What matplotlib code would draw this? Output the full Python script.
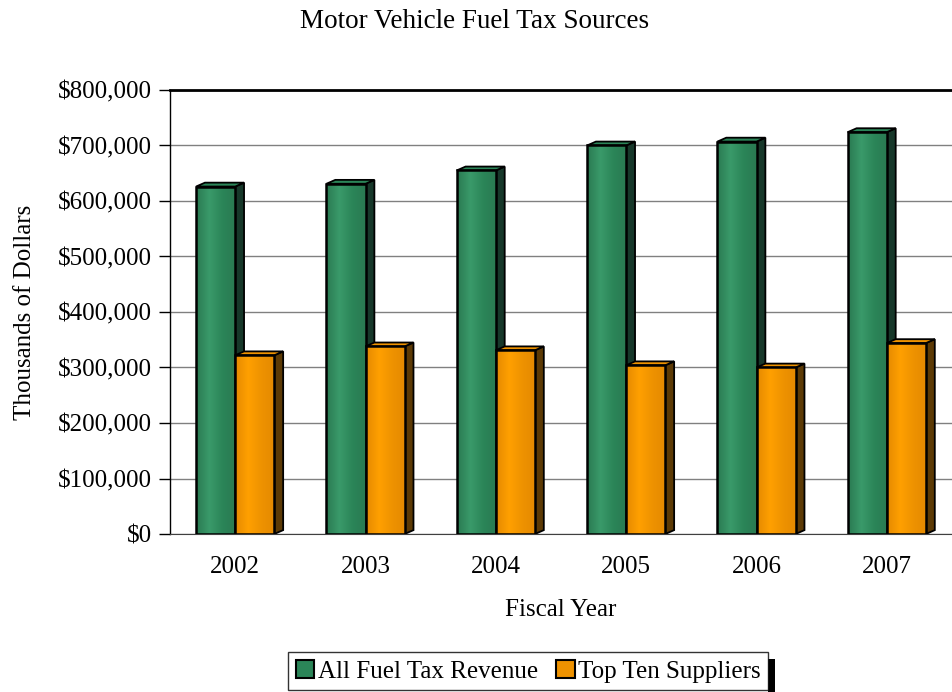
import matplotlib
matplotlib.use('Agg')
import matplotlib.pyplot as plt
import numpy as np
from matplotlib.patches import Polygon, Rectangle
from matplotlib.ticker import FuncFormatter, MultipleLocator

plt.rcParams['font.family'] = ['Liberation Serif', 'DejaVu Serif']

years = ['2002', '2003', '2004', '2005', '2006', '2007']
all_fuel_tax = [626000, 631000, 655000, 700000, 707000, 724000]
top_ten = [322000, 338000, 331000, 304000, 300000, 344000]

green = ['#2a7a52', '#3a9a6a', '#2b8558']   # dark edge, light, mid
green_side = '#17382a'
orange = ['#e58a00', '#ffa000', '#ee9200']
orange_side = '#5c3a05'

fig = plt.figure(figsize=(9.52, 6.92), dpi=100)
ax = fig.add_axes([0.1786, 0.2283, 0.8214, 0.6417])

x = np.arange(len(years))
w = 0.3
dx, dy = 0.068, 7000  # depth of the pseudo-3D boxes


def gradient_bar(x0, h, cols, side, z):
    cmap = matplotlib.colors.LinearSegmentedColormap.from_list('g', [cols[0], cols[1], cols[2], cols[0]])
    # side and top faces
    ax.add_patch(Polygon([(x0 + w, 0), (x0 + w, h), (x0 + w + dx, h + dy), (x0 + w + dx, dy)],
                         closed=True, fc=side, ec='black', lw=1.3, zorder=z))
    ax.add_patch(Polygon([(x0, h), (x0 + w, h), (x0 + w + dx, h + dy), (x0 + dx, h + dy)],
                         closed=True, fc=cols[2], ec='black', lw=1.3, zorder=z))
    bar = ax.bar(x0, h, width=w, align='edge', color='none', edgecolor='black', lw=1.8, zorder=z + 0.2)[0]
    img = ax.imshow(np.linspace(0, 1, 64).reshape(1, -1), cmap=cmap, aspect='auto',
                    extent=(x0, x0 + w, 0, h), zorder=z + 0.1)
    img.set_clip_path(bar)
    return bar


for i in range(len(years)):
    gradient_bar(x[i] - w, all_fuel_tax[i], green, green_side, 3 + i)
    gradient_bar(x[i], top_ten[i], orange, orange_side, 3.5 + i)

ax.set_xlim(-0.5, 5.5)
ax.set_ylim(0, 800000)
ax.yaxis.set_major_locator(MultipleLocator(100000))
ax.yaxis.set_major_formatter(FuncFormatter(lambda v, p: '${:,.0f}'.format(v)))
ax.set_xticks(x)
ax.set_xticklabels(years)
ax.tick_params(axis='x', length=0, pad=16, labelsize=18)
ax.tick_params(axis='y', length=8, width=1, direction='out', labelsize=18, pad=5)
ax.grid(axis='y', color='#808080', lw=1)
ax.set_axisbelow(True)

ax.spines['right'].set_visible(False)
ax.spines['top'].set_linewidth(2)
ax.spines['left'].set_linewidth(1)
ax.spines['bottom'].set_color('#404040')

ax.set_xlabel('Fiscal Year', fontsize=18, labelpad=15)
ax.set_ylabel('Thousands of Dollars', fontsize=18, labelpad=16)
fig.text(0.498, 0.969, 'Motor Vehicle Fuel Tax Sources', ha='center', va='center', fontsize=19.5)

handles = [Rectangle((0, 0), 1, 1, fc=green[2], ec='black', lw=1.5),
           Rectangle((0, 0), 1, 1, fc=orange[2], ec='black', lw=1.5)]
leg = fig.legend(handles, ['All Fuel Tax Revenue', 'Top Ten Suppliers'], loc='center',
                 bbox_to_anchor=(0.555, 0.03), ncol=2, fontsize=18, frameon=True,
                 fancybox=False, handlelength=0.75, handleheight=0.75, handletextpad=0.15,
                 columnspacing=0.7, borderpad=0.3, edgecolor='black')
leg.get_frame().set_linewidth(1)

fig.canvas.draw()
bb = leg.get_window_extent().transformed(fig.transFigure.inverted())
fig.patches.append(Rectangle((bb.x1, bb.y0 - 0.009), 0.007, bb.height, transform=fig.transFigure,
                             fc='black', ec='none', zorder=0))

fig.savefig('out.png', dpi=100)
